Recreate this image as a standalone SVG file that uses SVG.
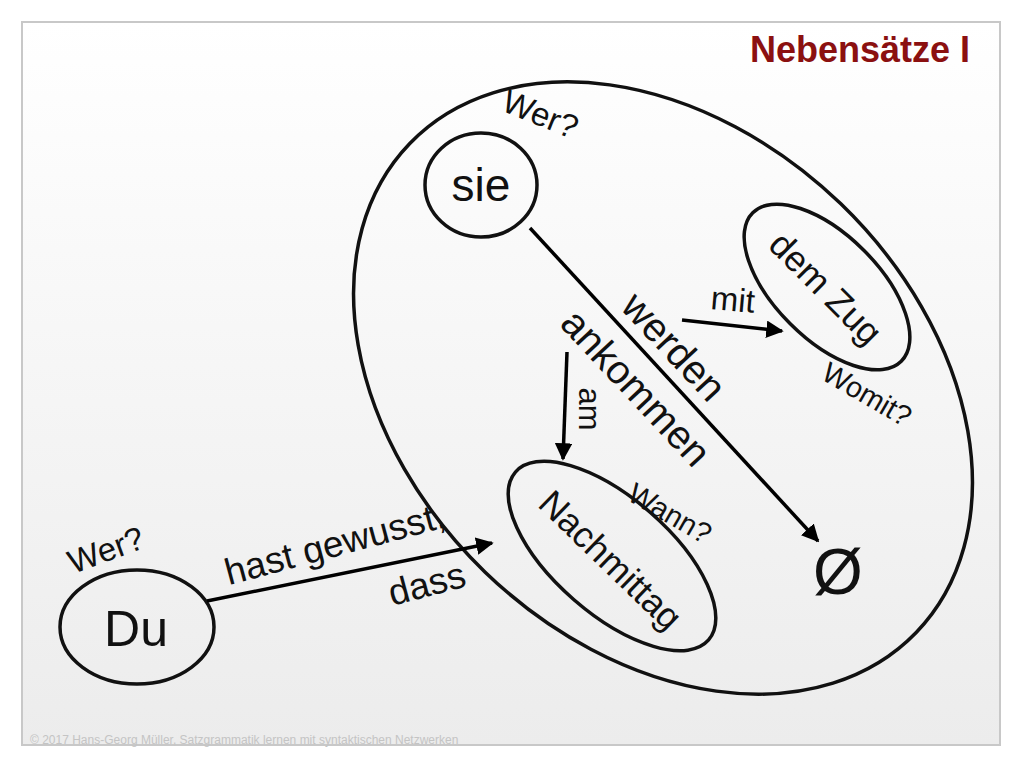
<svg xmlns="http://www.w3.org/2000/svg" width="1024" height="768" viewBox="0 0 1024 768">
<defs>
<linearGradient id="bg" x1="0" y1="0" x2="0" y2="1"><stop offset="0" stop-color="#ffffff"/><stop offset="1" stop-color="#ececec"/></linearGradient>
<marker id="ah" viewBox="0 0 10 10" refX="9" refY="5" markerWidth="5" markerHeight="5" orient="auto"><path d="M0,0 L10,5 L0,10 z" fill="#000"/></marker>
</defs>
<style>
.n{fill:none;stroke:#111;stroke-width:3.5}
.t{font-family:"Liberation Sans",Arial,sans-serif;fill:#111}
.e{stroke:#000;stroke-width:3.5;fill:none;marker-end:url(#ah)}
</style>
<rect width="1024" height="768" fill="#fff"/>
<rect x="22" y="22" width="978" height="723" fill="url(#bg)" stroke="#c8c8c8" stroke-width="2"/>
<text x="970" y="62" text-anchor="end" class="t" font-size="36" font-weight="bold" style="fill:#8b1010">Nebensätze I</text>
<g id="clause"><ellipse cx="663" cy="388" rx="352" ry="256" transform="rotate(44 663 388)" class="n"/></g>
<g id="sie"><ellipse cx="481" cy="185" rx="56" ry="52" class="n"/><text x="481" y="201" text-anchor="middle" class="t" font-size="46">sie</text>
<text class="t" font-size="33" transform="translate(500 110) rotate(22)">Wer?</text></g>
<g id="du"><ellipse cx="137" cy="627" rx="77" ry="57" class="n"/><text x="136" y="646" text-anchor="middle" class="t" font-size="50">Du</text>
<text class="t" font-size="33" transform="translate(73 574) rotate(-20)">Wer?</text></g>
<g id="zug"><ellipse cx="827" cy="287" rx="105" ry="52" transform="rotate(45 827 287)" class="n"/>
<text class="t" font-size="36" text-anchor="middle" transform="translate(817 297) rotate(45)">dem Zug</text>
<text class="t" font-size="29" text-anchor="middle" transform="translate(862 403) rotate(30)">Womit?</text></g>
<g id="nachmittag"><ellipse cx="612" cy="556" rx="128" ry="58" transform="rotate(41 612 556)" class="n"/>
<text class="t" font-size="36" text-anchor="middle" transform="translate(602 569) rotate(44)">Nachmittag</text>
<text class="t" font-size="29" text-anchor="middle" transform="translate(665 522) rotate(30)">Wann?</text></g>
<g id="null"><text x="838" y="594" text-anchor="middle" class="t" font-size="64">Ø</text></g>
<g id="connectors">
<line x1="530" y1="228" x2="818" y2="541" class="e"/>
<line x1="682" y1="320" x2="782" y2="331" class="e"/>
<line x1="567" y1="352" x2="563" y2="459" class="e"/>
<line x1="207" y1="601" x2="492" y2="543" class="e"/>
<text class="t" font-size="40" text-anchor="middle" transform="translate(664 356) rotate(47)">werden</text>
<text class="t" font-size="40" text-anchor="middle" transform="translate(626 397) rotate(47)">ankommen</text>
<text class="t" font-size="31" text-anchor="middle" transform="translate(579 409) rotate(90)">am</text>
<text class="t" font-size="33" text-anchor="middle" transform="translate(732 311) rotate(5)">mit</text>
<text class="t" font-size="37" text-anchor="middle" transform="translate(338 556) rotate(-15)">hast gewusst,</text>
<text class="t" font-size="37" text-anchor="middle" transform="translate(430 596) rotate(-15)">dass</text>
</g>
<text x="30" y="744" class="t" font-size="12" style="fill:#c4c4c4">© 2017 Hans-Georg Müller, Satzgrammatik lernen mit syntaktischen Netzwerken</text>
</svg>
